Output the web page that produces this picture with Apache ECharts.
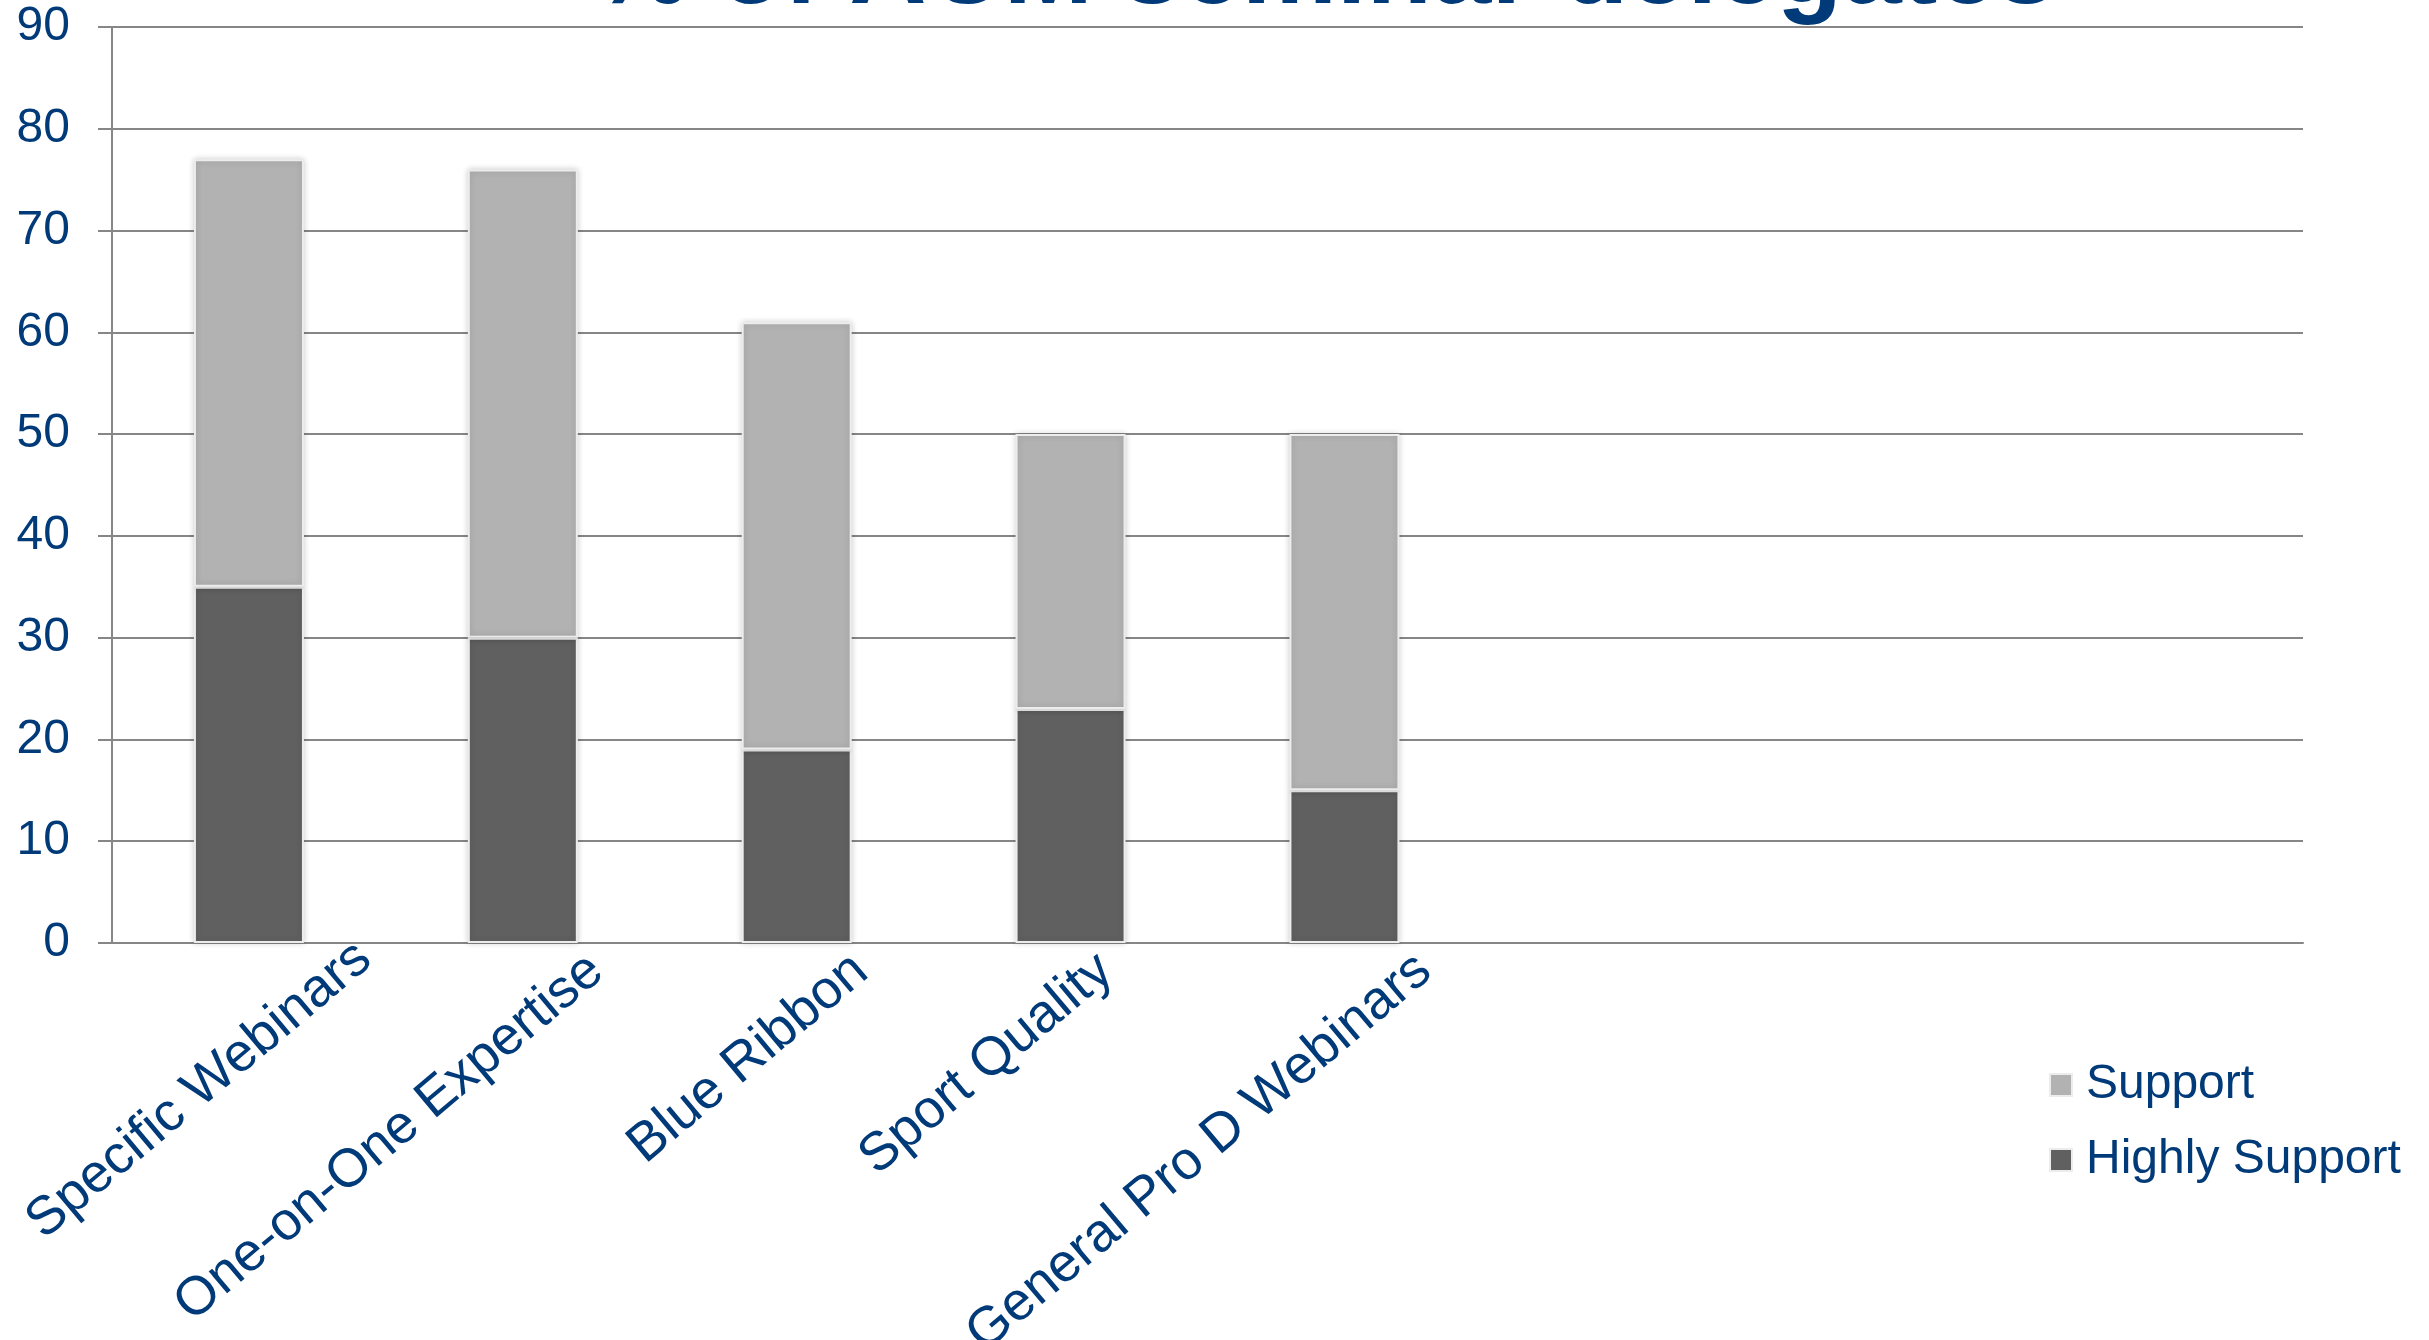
<!DOCTYPE html>
<html>
<head>
<meta charset="utf-8">
<script src="https://cdn.jsdelivr.net/npm/echarts@6/dist/echarts.min.js"></script>
<style>
html,body{margin:0;padding:0;background:#fff;}
#c{width:2429px;height:1340px;}
</style>
</head>
<body>
<div id="c"></div>
<script>
var titleText = '% of ACM seminar delegates';
var categories = ['Specific Webinars', 'One-on-One Expertise', 'Blue Ribbon', 'Sport Quality', 'General Pro D Webinars', '', '', ''];
var highlySupport = [35, 30, 19, 23, 15, null, null, null];
var support = [42, 46, 42, 27, 35, null, null, null];
var yTicks = [0, 10, 20, 30, 40, 50, 60, 70, 80, 90];

// label layout nudges (styling only): right padding and line height per category label
var labelPadRight = [2, 42, 49, 71, 37, 0, 0, 0];
var labelLineHeight = [364, 329, 317, 280, 337, 360, 360, 360];

var FONT = "'Liberation Sans', Arial, sans-serif";
var BLUE = '#003a78';
var GRID = '#868686';

var xData = categories.map(function (c, i) {
  return {
    value: c,
    textStyle: {
      padding: [0, labelPadRight[i], 0, 0],
      lineHeight: labelLineHeight[i],
      verticalAlign: 'top',
      align: 'right',
      fontFamily: FONT,
      fontSize: 54,
      color: BLUE
    }
  };
});

var chart = echarts.init(document.getElementById('c'), null, {renderer: 'canvas'});
chart.setOption({
  animation: false,
  backgroundColor: '#ffffff',
  graphic: [{
    type: 'text',
    x: 1325,
    y: -27,
    z: 100,
    style: {
      text: titleText,
      fill: BLUE,
      font: 'bold 107px ' + FONT,
      textAlign: 'center',
      textVerticalAlign: 'middle'
    }
  }],
  grid: {left: 112, right: 126, top: 27, bottom: 397, containLabel: false, outerBoundsMode: 'none'},
  legend: {
    orient: 'vertical',
    left: 2044,
    top: 1056,
    itemWidth: 22,
    itemHeight: 22,
    itemGap: 27,
    icon: 'rect',
    data: ['Support', 'Highly Support'],
    textStyle: {fontFamily: FONT, fontSize: 48, color: BLUE, lineHeight: 48, padding: [0, 0, 0, 9]}
  },
  xAxis: {
    type: 'category',
    data: xData,
    boundaryGap: true,
    axisLine: {show: true, lineStyle: {color: GRID, width: 2}},
    axisTick: {show: false},
    axisLabel: {
      interval: 0,
      rotate: 40,
      margin: -132,
      fontFamily: FONT,
      fontSize: 54,
      color: BLUE,
      verticalAlign: 'top',
      lineHeight: 360
    }
  },
  yAxis: {
    type: 'value',
    min: 0,
    max: 90,
    interval: 10,
    axisLine: {show: true, lineStyle: {color: GRID, width: 2}},
    axisTick: {show: true, inside: false, length: 14, lineStyle: {color: GRID, width: 2}},
    splitLine: {show: true, lineStyle: {color: GRID, width: 2}},
    axisLabel: {
      margin: 42,
      fontFamily: FONT,
      fontSize: 48,
      color: BLUE,
      formatter: function (v) { return yTicks.indexOf(v) >= 0 ? String(v) : ''; }
    }
  },
  series: [
    {
      name: 'Highly Support',
      type: 'bar',
      stack: 'total',
      data: highlySupport,
      barWidth: 110,
      itemStyle: {color: '#606060', borderColor: '#ececec', borderWidth: 2, shadowBlur: 6, shadowColor: 'rgba(0,0,0,0.18)'}
    },
    {
      name: 'Support',
      type: 'bar',
      stack: 'total',
      data: support,
      barWidth: 110,
      itemStyle: {color: '#b2b2b2', borderColor: '#ececec', borderWidth: 2, shadowBlur: 6, shadowColor: 'rgba(0,0,0,0.18)'}
    }
  ]
});
</script>
</body>
</html>
